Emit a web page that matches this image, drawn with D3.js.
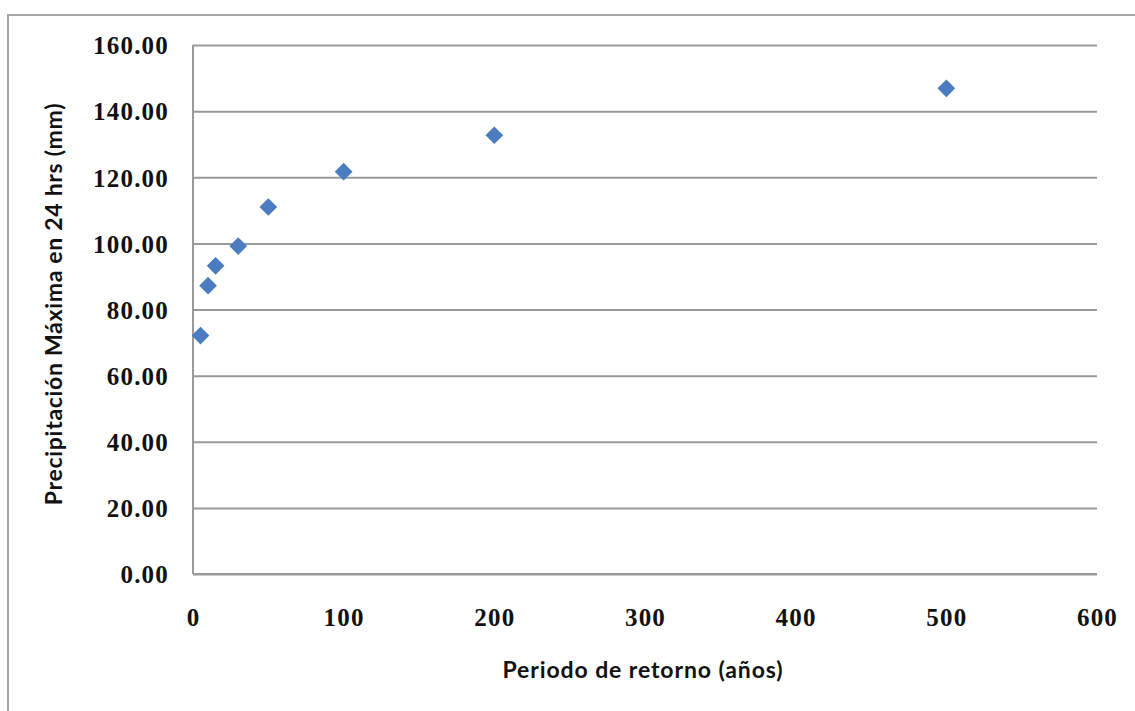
<!DOCTYPE html>
<html>
<head>
<meta charset="utf-8">
<script src="https://cdn.jsdelivr.net/npm/d3@7"></script>
<style>
  html, body { margin: 0; padding: 0; background: #ffffff; }
  svg { display: block; }
</style>
</head>
<body>
<svg id="chart" width="1135" height="711"></svg>
<script>
// Return period (years) and maximum 24-hour precipitation (mm)
const periods = [5, 10, 15, 30, 50, 100, 200, 500];
const precipitation = [72.1, 87.2, 93.2, 99.2, 111.0, 121.7, 132.7, 146.9];

const xTicks = [0, 100, 200, 300, 400, 500, 600];
const yTicks = [0, 20, 40, 60, 80, 100, 120, 140, 160];

const xTitle = "Periodo de retorno (años)";
const yTitle = "Precipitación Máxima en 24 hrs (mm)";

const W = 1135, H = 711;
const plot = { left: 193, right: 1097, top: 45, bottom: 574 };

const svg = d3.select("#chart");

// Chart area frame
svg.append("rect")
  .attr("x", 8).attr("y", 15)
  .attr("width", W + 20).attr("height", H + 20)
  .attr("fill", "#ffffff")
  .attr("stroke", "#a6a6a6")
  .attr("stroke-width", 2);

const x = d3.scaleLinear().domain([0, 600]).range([plot.left, plot.right]);
const y = d3.scaleLinear().domain([0, 160]).range([plot.bottom, plot.top]);

const tickFont = "'Liberation Serif', 'Times New Roman', serif";
const titleFont = "Lato, 'Open Sans', sans-serif";

// Horizontal gridlines + y labels
const yAxis = d3.axisLeft(y)
  .tickValues(yTicks)
  .tickSize(-(plot.right - plot.left))
  .tickPadding(24)
  .tickFormat(d3.format(".2f"));

const gy = svg.append("g")
  .attr("transform", `translate(${plot.left},0)`)
  .call(yAxis);
gy.select(".domain").remove();
gy.selectAll(".tick line")
  .attr("stroke", "#9a9a9a")
  .attr("stroke-width", 2);
gy.selectAll(".tick text")
  .attr("font-family", tickFont)
  .attr("font-weight", "bold")
  .attr("font-size", 25)
  .attr("letter-spacing", 1.2)
  .attr("fill", "#111111")
  .attr("dy", "0.35em");

// x axis labels
const xAxis = d3.axisBottom(x)
  .tickValues(xTicks)
  .tickSize(0)
  .tickPadding(34)
  .tickFormat(d3.format("d"));

const gx = svg.append("g")
  .attr("transform", `translate(0,${plot.bottom})`)
  .call(xAxis);
gx.select(".domain").remove();
gx.selectAll(".tick text")
  .attr("font-family", tickFont)
  .attr("font-weight", "bold")
  .attr("font-size", 25)
  .attr("letter-spacing", 1.2)
  .attr("fill", "#111111");

// Axis lines
svg.append("line")
  .attr("x1", plot.left).attr("x2", plot.left)
  .attr("y1", plot.top).attr("y2", plot.bottom)
  .attr("stroke", "#9a9a9a").attr("stroke-width", 2);
svg.append("line")
  .attr("x1", plot.left).attr("x2", plot.right)
  .attr("y1", plot.bottom).attr("y2", plot.bottom)
  .attr("stroke", "#9a9a9a").attr("stroke-width", 2);

// Diamond markers
const diamond = d3.symbol().type(d3.symbolDiamond2).size(200);
svg.append("g")
  .selectAll("path")
  .data(periods.map((p, i) => ({ p, v: precipitation[i] })))
  .join("path")
  .attr("transform", d => `translate(${x(d.p)},${y(d.v)})`)
  .attr("d", diamond)
  .attr("fill", "#4a7cbf");

// Axis titles
svg.append("text")
  .attr("x", (plot.left + plot.right) / 2 - 2)
  .attr("y", 678)
  .attr("text-anchor", "middle")
  .attr("font-family", titleFont)
  .attr("font-weight", "bold")
  .attr("font-size", 23)
  .attr("letter-spacing", 0.9)
  .attr("fill", "#111111")
  .text(xTitle);

svg.append("text")
  .attr("transform", "translate(62,304) rotate(-90)")
  .attr("text-anchor", "middle")
  .attr("font-family", titleFont)
  .attr("font-weight", "bold")
  .attr("font-size", 23)
  .attr("letter-spacing", 0.7)
  .attr("fill", "#111111")
  .text(yTitle);
</script>
</body>
</html>
